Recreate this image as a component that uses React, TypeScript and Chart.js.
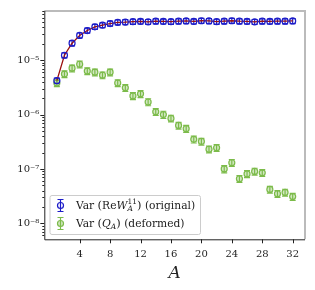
import React, { useEffect, useRef } from 'react';
import { Chart, registerables } from 'chart.js';

Chart.register(...registerables);

const subsystemSizes = [1, 2, 3, 4, 5, 6, 7, 8, 9, 10, 11, 12, 13, 14, 15, 16, 17, 18, 19, 20, 21, 22, 23, 24, 25, 26, 27, 28, 29, 30, 31, 32];

const varOriginal = [4.2e-6, 1.23e-5, 2.05e-5, 2.85e-5, 3.5e-5, 4.1e-5, 4.4e-5, 4.7e-5, 4.95e-5, 5.0e-5, 5.1e-5, 5.15e-5, 5.05e-5, 5.2e-5, 5.15e-5, 5.1e-5, 5.2e-5, 5.25e-5, 5.15e-5, 5.3e-5, 5.25e-5, 5.1e-5, 5.2e-5, 5.3e-5, 5.2e-5, 5.15e-5, 5.05e-5, 5.2e-5, 5.15e-5, 5.2e-5, 5.2e-5, 5.25e-5];
const errOriginal = [0.45e-6, 1.3e-6, 2.2e-6, 3.0e-6, 3.7e-6, 4.3e-6, 4.6e-6, 5.0e-6, 5.2e-6, 5.3e-6, 5.4e-6, 5.4e-6, 5.3e-6, 5.5e-6, 5.4e-6, 5.4e-6, 5.5e-6, 5.5e-6, 5.4e-6, 5.6e-6, 5.5e-6, 5.4e-6, 5.5e-6, 5.6e-6, 5.5e-6, 5.4e-6, 5.3e-6, 5.5e-6, 5.4e-6, 5.5e-6, 5.5e-6, 5.5e-6];

const varDeformed = [3.8e-6, 5.55e-6, 7.1e-6, 8.4e-6, 6.3e-6, 6.0e-6, 5.3e-6, 6.0e-6, 3.8e-6, 3.1e-6, 2.2e-6, 2.4e-6, 1.7e-6, 1.12e-6, 1.0e-6, 8.5e-7, 6.3e-7, 5.5e-7, 3.5e-7, 3.2e-7, 2.3e-7, 2.45e-7, 1.0e-7, 1.3e-7, 6.6e-8, 8.1e-8, 9.0e-8, 8.5e-8, 4.2e-8, 3.5e-8, 3.7e-8, 3.1e-8];
const errDeformed = [0.55e-6, 0.8e-6, 1.0e-6, 1.2e-6, 0.9e-6, 0.85e-6, 0.75e-6, 0.85e-6, 0.55e-6, 0.45e-6, 0.32e-6, 0.35e-6, 0.25e-6, 0.16e-6, 0.15e-6, 1.2e-7, 0.9e-7, 0.8e-7, 0.5e-7, 0.46e-7, 0.33e-7, 0.35e-7, 0.15e-7, 0.19e-7, 0.95e-8, 1.2e-8, 1.3e-8, 1.2e-8, 0.6e-8, 0.5e-8, 0.53e-8, 0.45e-8];

const xTickValues = [4, 8, 12, 16, 20, 24, 28, 32];
const yDecades = [-9, -8, -7, -6, -5, -4];
const xTitle = 'A';

const BLUE = '#1c1cc8';
const RED = '#9a1010';
const GREEN = '#7cbb4a';
const SERIF = '"DejaVu Serif", "Liberation Serif", serif';

const SUP: Record<string, string> = { '-': '⁻', '0': '⁰', '1': '¹', '2': '²', '3': '³', '4': '⁴', '5': '⁵', '6': '⁶', '7': '⁷', '8': '⁸', '9': '⁹' };
const sup = (s: string) => s.split('').map((c) => SUP[c] || c).join('');

type Seg = { t: string; size: number; italic?: boolean; dy?: number; stackNext?: boolean };

function drawRich(ctx: CanvasRenderingContext2D, segs: Seg[], x: number, y: number) {
  let cx = x;
  let stackStart: number | null = null;
  let stackW = 0;
  for (const s of segs) {
    ctx.font = `${s.italic ? 'italic ' : ''}${s.size}px ${SERIF}`;
    const w = ctx.measureText(s.t).width;
    const startX = stackStart !== null ? stackStart : cx;
    ctx.fillText(s.t, startX, y + (s.dy || 0));
    if (s.stackNext) {
      stackStart = cx;
      stackW = w;
    } else if (stackStart !== null) {
      cx = stackStart + Math.max(stackW, w);
      stackStart = null;
    } else {
      cx += w;
    }
  }
}

const errorBarPlugin = {
  id: 'errorBars',
  beforeDatasetsDraw(chart: any) {
    const ctx = chart.ctx;
    const ys = chart.scales.y;
    const xs = chart.scales.x;
    const sets = [
      { vals: varOriginal, errs: errOriginal, color: BLUE },
      { vals: varDeformed, errs: errDeformed, color: GREEN },
    ];
    ctx.save();
    ctx.beginPath();
    ctx.rect(chart.chartArea.left, chart.chartArea.top, chart.chartArea.right - chart.chartArea.left, chart.chartArea.bottom - chart.chartArea.top);
    ctx.clip();
    for (const s of sets) {
      ctx.strokeStyle = s.color;
      ctx.lineWidth = 1.2;
      s.vals.forEach((v, i) => {
        const px = xs.getPixelForValue(subsystemSizes[i]);
        const y1 = ys.getPixelForValue(v + s.errs[i]);
        const y2 = ys.getPixelForValue(v - s.errs[i]);
        ctx.beginPath();
        ctx.moveTo(px, y1);
        ctx.lineTo(px, y2);
        ctx.moveTo(px - 3, y1);
        ctx.lineTo(px + 3, y1);
        ctx.moveTo(px - 3, y2);
        ctx.lineTo(px + 3, y2);
        ctx.stroke();
      });
    }
    ctx.restore();
  },
};

const axesPlugin = {
  id: 'axesDecor',
  afterDraw(chart: any) {
    const ctx = chart.ctx;
    const { left, right, top, bottom } = chart.chartArea;
    const xs = chart.scales.x;
    const ys = chart.scales.y;
    ctx.save();
    // spines
    ctx.strokeStyle = '#bbbbbb';
    ctx.lineWidth = 2;
    ctx.beginPath();
    ctx.moveTo(left, top);
    ctx.lineTo(right, top);
    ctx.lineTo(right, bottom);
    ctx.stroke();
    ctx.strokeStyle = '#222';
    ctx.lineWidth = 1;
    ctx.beginPath();
    ctx.moveTo(left + 0.5, top);
    ctx.lineTo(left + 0.5, bottom + 0.5);
    ctx.lineTo(right, bottom + 0.5);
    ctx.stroke();
    // x ticks
    ctx.beginPath();
    for (const t of xs.ticks) {
      const px = Math.round(xs.getPixelForValue(t.value)) + 0.5;
      ctx.moveTo(px, bottom);
      ctx.lineTo(px, bottom + 4);
    }
    // y ticks
    for (const t of ys.ticks) {
      const lg = Math.log10(t.value);
      const major = Math.abs(lg - Math.round(lg)) < 1e-9;
      const py = Math.round(ys.getPixelForValue(t.value)) + 0.5;
      if (py < top - 0.5 || py > bottom + 1) continue;
      ctx.moveTo(left, py);
      ctx.lineTo(left - (major ? 4 : 2), py);
    }
    ctx.stroke();

    // legend
    const bx = 50, by = 195.5, bw = 150.5, bh = 39;
    ctx.fillStyle = 'rgba(255,255,255,0.85)';
    ctx.strokeStyle = '#cccccc';
    ctx.lineWidth = 1;
    ctx.beginPath();
    (ctx as any).roundRect ? (ctx as any).roundRect(bx, by, bw, bh, 2) : ctx.rect(bx, by, bw, bh);
    ctx.fill();
    ctx.stroke();

    const entries = [
      { color: BLUE, y: 205.5, fill: 'rgba(255,255,255,0)' },
      { color: GREEN, y: 223.5, fill: 'rgba(124,187,74,0.35)' },
    ];
    for (const e of entries) {
      const mx = 60.5;
      ctx.strokeStyle = e.color;
      ctx.lineWidth = 1.2;
      ctx.beginPath();
      ctx.moveTo(mx, e.y - 6);
      ctx.lineTo(mx, e.y + 6);
      ctx.moveTo(mx - 3, e.y - 6);
      ctx.lineTo(mx + 3, e.y - 6);
      ctx.moveTo(mx - 3, e.y + 6);
      ctx.lineTo(mx + 3, e.y + 6);
      ctx.stroke();
      ctx.beginPath();
      ctx.arc(mx, e.y, 3, 0, Math.PI * 2);
      ctx.fillStyle = e.fill;
      ctx.fill();
      ctx.stroke();
    }
    ctx.fillStyle = '#222';
    ctx.textBaseline = 'middle';
    drawRich(ctx, [
      { t: 'Var ', size: 10.7 },
      { t: '(', size: 11.5 },
      { t: 'Re', size: 10.7 },
      { t: 'W', size: 10.7, italic: true },
      { t: '11', size: 7.5, dy: -4, stackNext: true },
      { t: 'A', size: 7.5, italic: true, dy: 3 },
      { t: ')', size: 11.5 },
      { t: ' (original)', size: 10.7 },
    ], 76, 206);
    drawRich(ctx, [
      { t: 'Var ', size: 10.7 },
      { t: '(', size: 11.5 },
      { t: 'Q', size: 10.7, italic: true },
      { t: 'A', size: 7.5, italic: true, dy: 3 },
      { t: ')', size: 11.5 },
      { t: ' (deformed)', size: 10.7 },
    ], 76, 224);
    ctx.restore();
  },
};

export default function App() {
  const ref = useRef<HTMLCanvasElement>(null);
  useEffect(() => {
    if (!ref.current) return;
    const chart = new Chart(ref.current, {
      type: 'line',
      data: {
        datasets: [
          {
            label: 'Var (ReW_A^11) (original)',
            data: subsystemSizes.map((a, i) => ({ x: a, y: varOriginal[i] })),
            borderColor: RED,
            borderWidth: 1.3,
            pointStyle: 'circle',
            pointRadius: 3,
            pointBorderColor: BLUE,
            pointBackgroundColor: 'rgba(255,255,255,0)',
            pointBorderWidth: 1.2,
            showLine: true,
            order: 1,
          },
          {
            label: 'Var (Q_A) (deformed)',
            data: subsystemSizes.map((a, i) => ({ x: a, y: varDeformed[i] })),
            borderColor: GREEN,
            showLine: false,
            pointStyle: 'circle',
            pointRadius: 3,
            pointBorderColor: GREEN,
            pointBackgroundColor: 'rgba(124,187,74,0.35)',
            pointBorderWidth: 1.2,
            order: 2,
          },
        ],
      },
      options: {
        animation: false,
        responsive: false,
        devicePixelRatio: 1,
        layout: { padding: { top: 10, right: 10, left: 0, bottom: 0 } },
        plugins: { legend: { display: false }, tooltip: { enabled: false } },
        scales: {
          x: {
            type: 'linear',
            min: -0.65,
            max: 33.62,
            grid: { display: false, drawTicks: false },
            border: { display: false },
            afterBuildTicks: (scale: any) => {
              scale.ticks = xTickValues.map((v) => ({ value: v }));
            },
            afterFit: (scale: any) => {
              scale.height = 50.7;
            },
            ticks: {
              padding: 9,
              color: '#222',
              font: { family: SERIF, size: 10 },
              callback: (v: any) => String(v),
            },
            title: {
              display: true,
              text: xTitle,
              color: '#222',
              font: { family: SERIF, size: 17, style: 'italic' },
              padding: { top: 0, bottom: 6 },
            },
          },
          y: {
            type: 'logarithmic',
            min: 5.09e-9,
            max: 8.0e-5,
            grid: { display: false, drawTicks: false },
            border: { display: false },
            afterBuildTicks: (scale: any) => {
              const ticks: any[] = [];
              for (const d of yDecades) {
                for (let m = 1; m <= 9; m++) {
                  const v = m * Math.pow(10, d);
                  if (v >= scale.min * 0.999 && v <= scale.max * 1.001) ticks.push({ value: v, major: m === 1 });
                }
              }
              scale.ticks = ticks;
            },
            afterFit: (scale: any) => {
              scale.width = 44.3;
            },
            ticks: {
              padding: 5,
              color: '#222',
              autoSkip: false,
              font: { family: SERIF, size: 10 },
              callback: (v: any) => {
                const lg = Math.log10(Number(v));
                if (Math.abs(lg - Math.round(lg)) < 1e-9) return '10' + sup(String(Math.round(lg)));
                return '';
              },
            },
          },
        },
      },
      plugins: [errorBarPlugin, axesPlugin],
    });
    return () => chart.destroy();
  }, []);
  return (
    <div style={{ position: 'absolute', left: 0, top: 0, width: 315, height: 290, background: '#fff' }}>
      <canvas ref={ref} width={315} height={290} style={{ display: 'block' }} />
    </div>
  );
}
